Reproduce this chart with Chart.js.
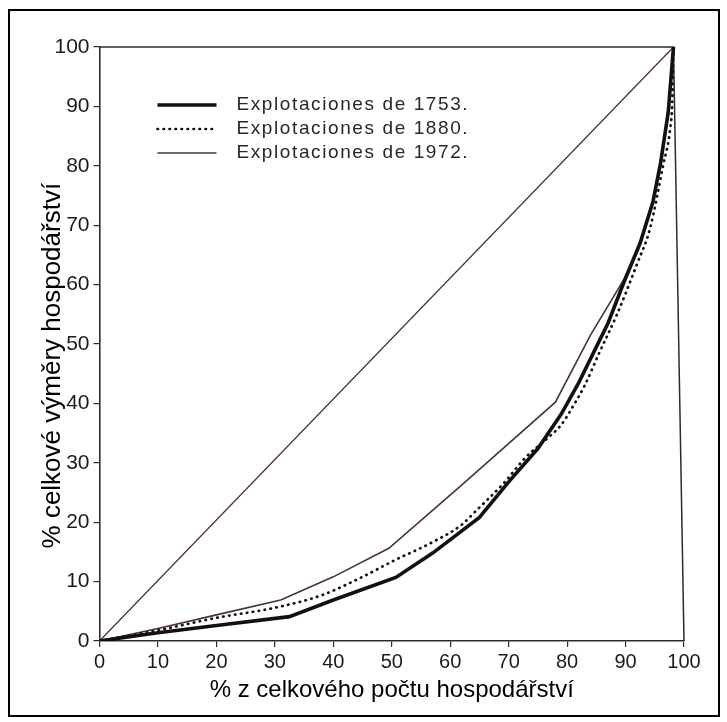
<!DOCTYPE html>
<html>
<head>
<meta charset="utf-8">
<script src="https://cdn.jsdelivr.net/npm/chart.js@4.4.1/dist/chart.umd.min.js"></script>
<style>
  html, body { margin: 0; padding: 0; background: #fff; }
  #frame { position: absolute; left: 8px; top: 9px; width: 708px; height: 704px; border: 2px solid #000; }
  #wrap { position: absolute; left: 0; top: 0; width: 727px; height: 722px; }
</style>
</head>
<body>
<div id="frame"></div>
<div id="wrap"><canvas id="myChart"></canvas></div>
<script>
// Lorenz curves: % of holdings (x) vs % of total area (y)
const xTitle = '% z celkového počtu hospodářství';
const yTitle = '% celkové výměry hospodářství';
const seriesLabels = ['Explotaciones de 1753.', 'Explotaciones de 1880.', 'Explotaciones de 1972.'];

const holdings1753 = [0, 10, 20, 32.5, 40, 50.7, 57, 65, 70, 75, 79, 82, 84.5, 87, 89.8, 92.5, 94.7, 96, 97.3, 98.2];
const area1753     = [0, 1.4, 2.6, 4.1, 6.9, 10.7, 14.8, 20.8, 26.8, 32.4, 38.2, 43.5, 48.5, 53.5, 60.6, 67, 74, 80.5, 89, 100];

const holdings1880 = [0, 10, 20, 30, 38, 45, 50.5, 56.5, 62, 64.5, 69, 73, 76.5, 79, 81, 83, 85.5, 88.5, 91.9, 94.2, 96.5, 97.6, 98, 98.2];
const area1880     = [0, 1.8, 3.9, 5.6, 7.7, 10.8, 13.6, 16.4, 19.6, 22, 26.4, 31, 34, 36.4, 39.5, 43, 48.5, 54.9, 63.3, 69.5, 80.4, 86, 91, 100];

const holdings1972 = [0, 10, 20, 31, 40, 49.5, 62, 78, 84, 89.8, 92.5, 94.7, 96, 97.3, 98.2];
const area1972     = [0, 2.1, 4.4, 6.9, 10.8, 15.6, 26.3, 40.2, 51.5, 61, 67, 74, 80.5, 89, 100];

// line of perfect equality
const equalityX = [0, 98.2];
const equalityY = [0, 100];

function toPoints(xs, ys) {
    return xs.map((x, i) => ({ x: x, y: ys[i] }));
}

const inkDark = '#141012';
const inkBrown = '#4a3239';
const axisInk = '#302a2c';

// top and right edges of the plot box (the right one leans a bit in the scan)
const boxPlugin = {
    id: 'box',
    beforeDatasetsDraw(chart) {
        const ctx = chart.ctx;
        const xs = chart.scales.x, ys = chart.scales.y;
        const apexX = xs.getPixelForValue(equalityX[equalityX.length - 1]);
        const topY = ys.getPixelForValue(ys.max);
        ctx.save();
        ctx.strokeStyle = axisInk;
        ctx.lineWidth = 1.5;
        ctx.beginPath();
        ctx.moveTo(xs.getPixelForValue(xs.min), topY);
        ctx.lineTo(apexX, topY);
        ctx.lineTo(xs.getPixelForValue(xs.max), ys.getPixelForValue(ys.min));
        ctx.stroke();
        ctx.restore();
    }
};

// legend sits inside the plot, upper left
const legendPlugin = {
    id: 'insideLegend',
    afterDraw(chart) {
        const ctx = chart.ctx;
        const left = chart.chartArea.left;
        seriesLabels.forEach((label, i) => {
            const ds = chart.data.datasets[i];
            const y = 105 + i * 24;
            ctx.save();
            ctx.strokeStyle = ds.borderColor;
            ctx.lineWidth = ds.borderWidth;
            ctx.lineCap = ds.borderCapStyle || 'butt';
            ctx.setLineDash(ds.borderDash || []);
            ctx.beginPath();
            ctx.moveTo(left + 58, y);
            ctx.lineTo(left + 117, y);
            ctx.stroke();
            ctx.setLineDash([]);
            ctx.font = '19px "Liberation Sans", Arial, sans-serif';
            ctx.letterSpacing = '1.6px';
            ctx.fillStyle = '#2b2728';
            ctx.textBaseline = 'middle';
            ctx.fillText(label, left + 137, y);
            ctx.restore();
        });
    }
};

new Chart('myChart', {
    type: 'line',
    data: {
        datasets: [{
            label: seriesLabels[0],
            data: toPoints(holdings1753, area1753),
            borderColor: inkDark,
            borderWidth: 3.6,
            tension: 0,
            pointRadius: 0
        }, {
            label: seriesLabels[1],
            data: toPoints(holdings1880, area1880),
            borderColor: inkDark,
            borderWidth: 2.7,
            borderDash: [0.5, 5.5],
            borderCapStyle: 'round',
            cubicInterpolationMode: 'monotone',
            pointRadius: 0
        }, {
            label: seriesLabels[2],
            data: toPoints(holdings1972, area1972),
            borderColor: inkBrown,
            borderWidth: 1.6,
            tension: 0,
            pointRadius: 0
        }, {
            label: 'equality',
            data: toPoints(equalityX, equalityY),
            borderColor: inkBrown,
            borderWidth: 1.3,
            pointRadius: 0
        }]
    },
    options: {
        responsive: true,
        maintainAspectRatio: false,
        animation: false,
        layout: { padding: { left: 12, top: 47, right: 43, bottom: 10 } },
        plugins: {
            legend: { display: false },
            tooltip: { enabled: false }
        },
        scales: {
            x: {
                type: 'linear',
                min: 0,
                max: 100,
                ticks: {
                    stepSize: 10,
                    color: '#1d1a1b',
                    font: { family: 'Liberation Sans', size: 20 },
                    padding: 3,
                    maxRotation: 0
                },
                grid: { drawOnChartArea: false, drawTicks: true, tickLength: 6, color: axisInk, lineWidth: 1.2 },
                border: { display: true, color: axisInk, width: 1.6 },
                title: {
                    display: true,
                    text: xTitle,
                    color: '#000',
                    font: { family: 'Liberation Sans', size: 24 },
                    padding: { top: 0, bottom: 7.6 }
                },
                afterFit(scale) { scale.height = 71; }
            },
            y: {
                type: 'linear',
                min: 0,
                max: 100,
                ticks: {
                    stepSize: 10,
                    color: '#1d1a1b',
                    font: { family: 'Liberation Sans', size: 21 },
                    padding: 4
                },
                grid: { drawOnChartArea: false, drawTicks: true, tickLength: 6, color: axisInk, lineWidth: 1.2 },
                border: { display: true, color: axisInk, width: 1.6 },
                title: {
                    display: true,
                    // trailing spaces push the visible title a little lower, as in the scan
                    text: yTitle + '\u00a0\u00a0\u00a0\u00a0\u00a0\u00a0',
                    color: '#000',
                    font: { family: 'Liberation Sans', size: 26 },
                    padding: { top: 25.4, bottom: 0 }
                },
                afterFit(scale) { scale.width = 87.5; }
            }
        }
    },
    plugins: [boxPlugin, legendPlugin]
});
</script>
</body>
</html>
